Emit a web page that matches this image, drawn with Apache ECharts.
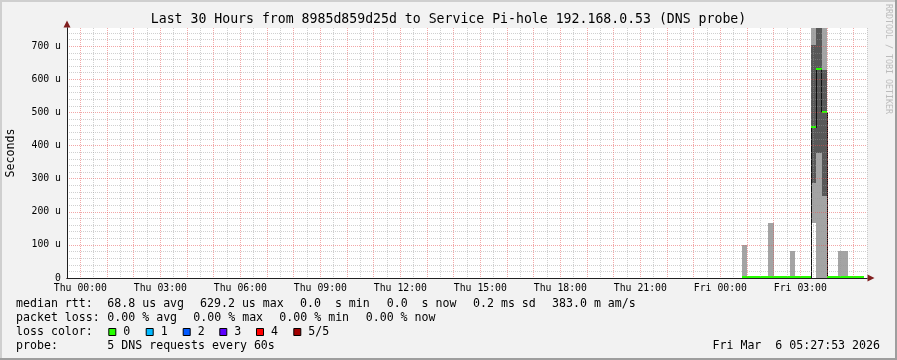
<!DOCTYPE html>
<html><head><meta charset="utf-8">
<script src="https://cdn.jsdelivr.net/npm/echarts@6/dist/echarts.min.js"></script>
<style>html,body{margin:0;padding:0;background:#f2f2f2}#c{width:897px;height:360px}</style>
</head><body><div id="c"></div>
<script>
// ================= DATA =================
const TITLE = 'Last 30 Hours from 8985d859d25d to Service Pi-hole 192.168.0.53 (DNS probe)';
const Y_NAME = 'Seconds';
// time axis in hours since Thu 00:00
const X_MIN = -0.5, X_MAX = 29.5;
const xTickHours  = [0, 3, 6, 9, 12, 15, 18, 21, 24, 27];
const xTickLabels = ['Thu 00:00','Thu 03:00','Thu 06:00','Thu 09:00','Thu 12:00','Thu 15:00','Thu 18:00','Thu 21:00','Fri 00:00','Fri 03:00'];
// y axis in microseconds; upper limit = 1.2 x max median
const Y_MAX = 755.04;
const yTickValues = [0, 100, 200, 300, 400, 500, 600, 700];
const yTickLabels = ['0', '100 u', '200 u', '300 u', '400 u', '500 u', '600 u', '700 u'];
// 12-minute consolidated columns (start hour)
const STEP_HOURS = 0.2;
const colStart = [24.8,25.0,25.2,25.4,25.6,25.8,26.0,26.2,26.4,26.6,26.8,27.0,27.2,27.4,27.6,27.8,28.0,28.2,28.4,28.6,28.8,29.0,29.2];
// sorted pings (us): p1 lowest ... p5 highest; p3 = median
const pingP1   = [0,0,0,0,0,  0,0,0,0, 0,0,0,0, 167,    0,   0, 0,0, 0, 0,0,0,0];
const pingP2   = [0,0,0,0,0,  0,0,0,0, 0,0,0,0, 286,  378, 247, 0,0, 0, 0,0,0,0];
const medianUs = [0,0,0,0,0,  0,0,0,0, 0,0,0,0, 453,629.2, 499, 0,0, 0, 0,0,0,0];
const pingP4   = [0,0,0,0,0,  0,0,0,0, 0,0,0,0, 703,  800, 628, 0,0, 0, 0,0,0,0];
const pingP5   = [100,0,0,0,0,166,0,0,0,81,0,0,0,800, 800, 800, 0,0,81,81,0,0,0];
// legend texts
const rowLabels = ['median rtt:', 'packet loss:', 'loss color:', 'probe:'];
const rttStats  = ['68.8 us avg', '629.2 us max', '0.0  s min', '0.0  s now', '0.2 ms sd', '383.0 m am/s'];
const lossStats = ['0.00 % avg', '0.00 % max', '0.00 % min', '0.00 % now'];
const lossColorLabels = ['0', '1', '2', '3', '4', '5/5'];
const probeText = '5 DNS requests every 60s';
const stampText = 'Fri Mar  6 05:27:53 2026';
const watermark = 'RRDTOOL / TOBI OETIKER';

// ================= STYLE / LAYOUT =================
const MONO = '"DejaVu Sans Mono", monospace';
const LOSS_COLORS = ['#26ff00', '#00b8ff', '#0059ff', '#5e00ff', '#ff0000', '#a10000'];
const GRID_MINOR = 'rgba(150,150,150,0.45)';
const GRID_MAJOR = 'rgba(230,80,80,0.5)';
const SMOKE_OUTER = '#a4a4a4', SMOKE_INNER = '#585858';
const rowY = [304, 318, 332, 346];
const colX0 = 16, valX0 = 107.3;
const rttX  = [107.3, 200, 300, 386.7, 473, 552];
const lossX = [107.3, 193.3, 279.3, 365.7];
const boxX  = [108.3, 145.7, 182.7, 219.3, 256, 293.3];

function xLabel(v) {
  const i = xTickHours.indexOf(Math.round(v * 2) / 2);
  return i >= 0 ? xTickLabels[i] : '';
}
function yLabel(v) {
  const i = yTickValues.indexOf(Math.round(v * 100) / 100);
  return i >= 0 ? yTickLabels[i] : '';
}

const smokeData = colStart.map((t, i) => [t, t + STEP_HOURS, pingP1[i], pingP2[i], pingP4[i], pingP5[i]]);
const medianData = colStart.map((t, i) => [t, t + STEP_HOURS, medianUs[i], i > 0 ? medianUs[i - 1] : medianUs[i]]);

const graphics = [];
// 3d border
graphics.push({type:'rect', shape:{x:0,y:0,width:897,height:2}, style:{fill:'#cfcfcf'}, silent:true});
graphics.push({type:'rect', shape:{x:0,y:0,width:2,height:360}, style:{fill:'#cfcfcf'}, silent:true});
graphics.push({type:'rect', shape:{x:0,y:358,width:897,height:2}, style:{fill:'#9e9e9e'}, silent:true});
graphics.push({type:'rect', shape:{x:895,y:0,width:2,height:360}, style:{fill:'#9e9e9e'}, silent:true});
const legFont = '11.6px ' + MONO;
function txt(s, x, y, align) {
  graphics.push({type:'text', x:x, y:y, silent:true,
    style:{text:s, font:legFont, fill:'#000', align:align || 'left', verticalAlign:'middle'}});
}
rowLabels.forEach((s, i) => txt(s, colX0, rowY[i]));
rttStats.forEach((s, i) => txt(s, rttX[i], rowY[0]));
lossStats.forEach((s, i) => txt(s, lossX[i], rowY[1]));
lossColorLabels.forEach((s, i) => {
  graphics.push({type:'rect', silent:true, shape:{x:boxX[i] + 0.5, y:rowY[2] - 3.5, width:7, height:7},
    style:{fill:LOSS_COLORS[i], stroke:'#000', lineWidth:1}});
  txt(s, boxX[i] + 15, rowY[2]);
});
txt(probeText, valX0, rowY[3]);
txt(stampText, 880, rowY[3], 'right');
graphics.push({type:'text', x:888.3, y:4, rotation:-Math.PI / 2, silent:true,
  style:{text:watermark, font:'8.3px ' + MONO, fill:'#bcbcbc', align:'left', verticalAlign:'middle'}});

const chart = echarts.init(document.getElementById('c'), null, {renderer:'canvas', width:897, height:360});
chart.setOption({
  backgroundColor: '#f2f2f2',
  animation: false,
  title: {text: TITLE, left: 'center', top: 13, padding: 0,
    textStyle: {fontFamily: MONO, fontSize: 13.2, fontWeight: 'normal', color: '#000'}},
  grid: {left: 67, top: 28, width: 800, height: 250, show: true, backgroundColor: '#ffffff', borderWidth: 0,
    containLabel: false, outerBoundsMode: 'none'},
  xAxis: [
    {type:'value', min:X_MIN, max:X_MAX, interval:0.5, position:'bottom', z:5,
      axisLine:{show:true, onZero:false, lineStyle:{color:'#1f1f1f', width:1}},
      axisTick:{show:false},
      axisLabel:{margin:5, fontFamily:MONO, fontSize:9.8, color:'#000', formatter:xLabel},
      splitLine:{show:true, lineStyle:{color:[GRID_MINOR, GRID_MAJOR], type:[1,1], width:1}}},
    {type:'value', min:X_MIN, max:X_MAX, position:'bottom', z:4,
      axisLine:{show:true, onZero:false, symbol:['none','triangle'], symbolSize:[7,7], symbolOffset:[0,4],
        lineStyle:{color:'#801f1f', width:1}},
      axisTick:{show:false}, axisLabel:{show:false}, splitLine:{show:false}}
  ],
  yAxis: [
    {type:'value', min:0, max:Y_MAX, interval:20, position:'left', z:5,
      axisLine:{show:true, onZero:false, lineStyle:{color:'#1f1f1f', width:1}},
      axisTick:{show:false},
      axisLabel:{margin:6, fontFamily:MONO, fontSize:9.8, color:'#000', formatter:yLabel},
      splitLine:{show:true, showMaxLine:false,
        lineStyle:{color:[GRID_MAJOR, GRID_MINOR, GRID_MINOR, GRID_MINOR, GRID_MINOR], type:[1,1], width:1}},
      name:Y_NAME, nameLocation:'middle', nameGap:50, nameRotate:90,
      nameTextStyle:{fontFamily:MONO, fontSize:11.6, color:'#000'}},
    {type:'value', min:0, max:Y_MAX, position:'left', z:4,
      axisLine:{show:true, onZero:false, symbol:['none','triangle'], symbolSize:[7,7], symbolOffset:[0,4],
        lineStyle:{color:'#801f1f', width:1}},
      axisTick:{show:false}, axisLabel:{show:false}, splitLine:{show:false}}
  ],
  graphic: graphics,
  series: [
    {type:'custom', name:'smoke', clip:true, z:2, silent:true,
      encode:{x:[0,1], y:[2,3,4,5]},
      data: smokeData,
      renderItem: function (params, api) {
        const t0 = api.value(0), t1 = api.value(1);
        const p1 = api.value(2), p2 = api.value(3), p4 = api.value(4), p5 = api.value(5);
        const children = [];
        function band(lo, hi, color) {
          const a = api.coord([t0, hi]), b = api.coord([t1, lo]);
          const x0 = Math.round(a[0]), x1 = Math.round(b[0]);
          const y0 = Math.round(a[1]), y1 = Math.round(b[1]);
          return {type:'rect', shape:{x:x0, y:y0, width:x1 - x0, height:y1 - y0}, style:{fill:color}};
        }
        if (p5 > p1) children.push(band(p1, p5, SMOKE_OUTER));
        if (p4 > p2) children.push(band(p2, p4, SMOKE_INNER));
        return {type:'group', children: children};
      }},
    {type:'custom', name:'median', clip:true, z:3, silent:true,
      encode:{x:[0,1], y:[2,3]},
      data: medianData,
      renderItem: function (params, api) {
        const t0 = api.value(0), t1 = api.value(1), med = api.value(2), prev = api.value(3);
        const a = api.coord([t0, med]), b = api.coord([t1, med]);
        const children = [];
        const xs = Math.floor(a[0]) + 0.5;
        if (prev !== med) {
          const p = api.coord([t0, prev]);
          children.push({type:'line', shape:{x1:xs, y1:p[1], x2:xs, y2:a[1]}, style:{stroke:'#101010', lineWidth:1}});
        }
        const yy = Math.round(a[1]) - 1;
        children.push({type:'line', shape:{x1:Math.round(a[0]), y1:yy, x2:Math.round(b[0]), y2:yy},
          style:{stroke:LOSS_COLORS[0], lineWidth:2}});
        return {type:'group', children: children};
      }}
  ]
});
</script>
</body></html>
